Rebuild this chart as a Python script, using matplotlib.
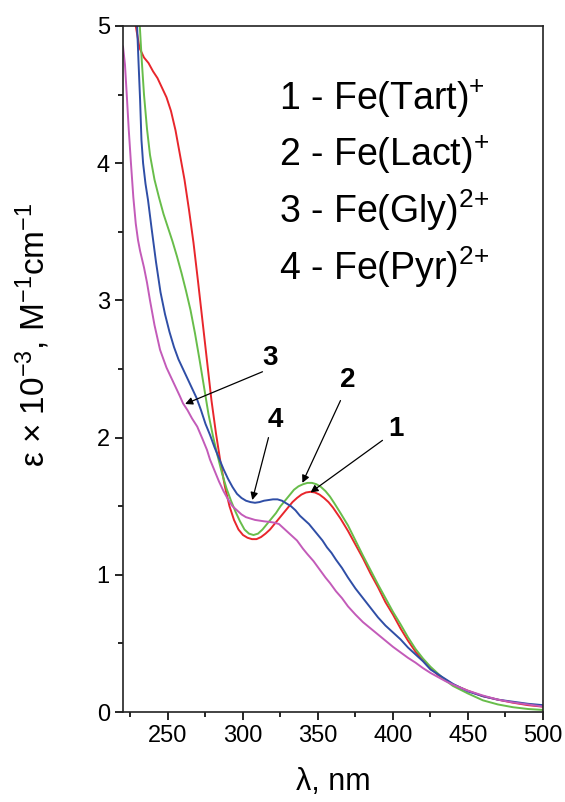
import matplotlib
matplotlib.use('Agg')
import matplotlib.pyplot as plt
from matplotlib.ticker import MultipleLocator

plt.rcParams['font.family'] = ['Liberation Sans', 'DejaVu Sans']
plt.rcParams['mathtext.fontset'] = 'custom'
plt.rcParams['mathtext.rm'] = 'Liberation Sans'
plt.rcParams['mathtext.it'] = 'Liberation Sans:italic'
plt.rcParams['mathtext.bf'] = 'Liberation Sans:bold'

# 1 - Fe(Tart)+
wl_tart = [226, 228.5, 231, 234, 237, 240, 243, 246, 249, 252, 255, 258, 261, 264, 267, 270,
           273, 276, 279, 282, 285, 288, 291, 294, 297, 300, 303, 306, 309, 312, 315, 318,
           321, 324, 327, 330, 333, 336, 339, 342, 345, 348, 351, 354, 357, 360, 365, 370,
           375, 380, 385, 390, 395, 400, 405, 410, 415, 420, 425, 430, 435, 440, 450, 460,
           470, 480, 490, 500]
eps_tart = [5.3, 5.0, 4.84, 4.77, 4.73, 4.67, 4.62, 4.55, 4.48, 4.38, 4.24, 4.06, 3.88, 3.66, 3.42, 3.14,
            2.85, 2.56, 2.27, 2.03, 1.82, 1.64, 1.50, 1.40, 1.33, 1.29, 1.27, 1.26, 1.26, 1.275, 1.30, 1.33,
            1.37, 1.41, 1.45, 1.49, 1.53, 1.56, 1.585, 1.60, 1.605, 1.60, 1.585, 1.56, 1.53, 1.49, 1.41, 1.32,
            1.22, 1.12, 1.01, 0.91, 0.80, 0.71, 0.61, 0.52, 0.44, 0.375, 0.32, 0.27, 0.235, 0.20, 0.155, 0.115,
            0.09, 0.068, 0.05, 0.039]

# 2 - Fe(Lact)+
wl_lact = [229, 231.2, 232.5, 234, 236, 238, 241, 244, 247, 250, 253, 256, 259, 262, 265, 268,
           271, 274, 277, 280, 283, 286, 289, 292, 295, 298, 301, 304, 307, 310, 313, 316,
           319, 322, 325, 328, 331, 334, 337, 340, 343, 346, 349, 352, 355, 358, 361, 365,
           370, 375, 380, 385, 390, 395, 400, 405, 410, 415, 420, 425, 430, 435, 440, 450,
           460, 470, 480, 490, 500]
eps_lact = [5.4, 5.0, 4.75, 4.50, 4.25, 4.06, 3.88, 3.75, 3.63, 3.53, 3.43, 3.32, 3.20, 3.07, 2.93, 2.76,
            2.57, 2.37, 2.17, 2.01, 1.87, 1.74, 1.63, 1.54, 1.46, 1.39, 1.33, 1.30, 1.29, 1.30, 1.33, 1.37,
            1.41, 1.45, 1.50, 1.54, 1.58, 1.62, 1.645, 1.66, 1.67, 1.67, 1.66, 1.64, 1.61, 1.57, 1.52, 1.45,
            1.36, 1.25, 1.14, 1.035, 0.93, 0.83, 0.73, 0.64, 0.545, 0.46, 0.39, 0.33, 0.28, 0.23, 0.19, 0.135,
            0.085, 0.055, 0.035, 0.022, 0.015]

# 3 - Fe(Gly)2+
wl_gly = [220, 221.3, 222.5, 223.8, 225.3, 226.9, 228.5, 230, 231.4, 234, 236, 238, 241, 244.7, 247, 249,
          252, 255, 258, 260, 263, 266, 269.5, 273, 276, 278, 281, 284, 287, 290, 293, 296,
          299, 302, 305, 308, 311, 314, 318, 321, 324, 327, 330, 333, 336, 340, 343, 347,
          351, 355, 358, 362, 366, 370, 375, 380, 385, 390, 395, 400, 405, 410, 415, 420,
          425, 430, 435, 440, 450, 460, 470, 480, 490, 500]
eps_gly = [4.85, 4.72, 4.50, 4.25, 4.00, 3.75, 3.56, 3.44, 3.36, 3.24, 3.13, 3.0, 2.82, 2.64, 2.57, 2.51,
           2.44, 2.37, 2.30, 2.25, 2.20, 2.14, 2.08, 1.99, 1.91, 1.84, 1.76, 1.68, 1.61, 1.55, 1.50, 1.47,
           1.44, 1.42, 1.41, 1.40, 1.395, 1.39, 1.385, 1.38, 1.37, 1.34, 1.31, 1.28, 1.25, 1.19, 1.15, 1.10,
           1.04, 0.98, 0.94, 0.88, 0.83, 0.77, 0.71, 0.655, 0.61, 0.565, 0.52, 0.475, 0.435, 0.395, 0.36, 0.32,
           0.285, 0.255, 0.225, 0.20, 0.155, 0.12, 0.09, 0.07, 0.055, 0.04]

# 4 - Fe(Pyr)2+
wl_pyr = [228, 229.4, 230.3, 231.4, 232.3, 233.4, 235, 236.7, 239, 242, 245, 248, 251, 254, 257, 260,
          263, 266, 269, 272, 275, 278, 281, 284, 287, 290, 293, 296, 299, 302, 305, 308,
          311, 314, 317, 320, 323, 326, 329, 332, 335, 338, 341, 344, 347, 350, 353, 356,
          359, 362, 366, 370, 375, 380, 385, 390, 395, 400, 405, 410, 415, 420, 425, 430,
          435, 440, 450, 460, 470, 480, 490, 500]
eps_pyr = [5.3, 5.0, 4.75, 4.46, 4.17, 4.0, 3.85, 3.73, 3.53, 3.28, 3.06, 2.90, 2.77, 2.66, 2.57, 2.50,
           2.43, 2.36, 2.29, 2.20, 2.10, 2.02, 1.93, 1.85, 1.77, 1.70, 1.64, 1.59, 1.56, 1.54, 1.53, 1.525,
           1.53, 1.54, 1.545, 1.55, 1.55, 1.54, 1.52, 1.50, 1.47, 1.43, 1.40, 1.37, 1.33, 1.29, 1.25, 1.20,
           1.16, 1.11, 1.05, 0.98, 0.90, 0.83, 0.76, 0.69, 0.63, 0.58, 0.53, 0.47, 0.42, 0.37, 0.31, 0.275,
           0.24, 0.205, 0.15, 0.115, 0.09, 0.075, 0.06, 0.05]

legend_lines = [r'1 - Fe(Tart)$^{+}$', r'2 - Fe(Lact)$^{+}$', r'3 - Fe(Gly)$^{2{+}}$', r'4 - Fe(Pyr)$^{2{+}}$']

fig = plt.figure(figsize=(5.65, 8.02), dpi=100)
ax = fig.add_axes([0.2177, 0.1122, 0.7433, 0.8554])

ax.plot(wl_tart, eps_tart, color='#e8262c', lw=1.4)
ax.plot(wl_lact, eps_lact, color='#68bd4a', lw=1.4)
ax.plot(wl_pyr, eps_pyr, color='#2f4ea6', lw=1.4)
ax.plot(wl_gly, eps_gly, color='#c35bb9', lw=1.4)

ax.set_xlim(220, 500)
ax.set_ylim(0, 5)
ax.xaxis.set_major_locator(MultipleLocator(50))
ax.xaxis.set_minor_locator(MultipleLocator(25))
ax.yaxis.set_major_locator(MultipleLocator(1))
ax.yaxis.set_minor_locator(MultipleLocator(0.5))
ax.tick_params(which='both', direction='out', top=False, right=False, labelsize=17, width=1.2)
ax.tick_params(which='major', length=6)
ax.tick_params(which='minor', length=3.5)
for s in ax.spines.values():
    s.set_linewidth(1.2)
    s.set_color('#222222')

ax.set_xlabel(r'λ, nm', fontsize=22, labelpad=14)
ax.set_ylabel(r'ε × 10$^{-3}$, M$^{-1}$cm$^{-1}$', fontsize=24)
ax.yaxis.set_label_coords(-0.17, 0.55)

for i, t in enumerate(legend_lines):
    ax.text(0.372, 0.8776 - i * 0.0824, t, transform=ax.transAxes, fontsize=27, va='baseline', ha='left')

arrow_kw = dict(arrowstyle='-|>', color='black', lw=0.9, mutation_scale=11, shrinkA=0, shrinkB=0)
ax.annotate('', xy=(261.4, 2.245), xytext=(313, 2.48), arrowprops=arrow_kw)
ax.annotate('', xy=(306.2, 1.545), xytext=(317, 2.0), arrowprops=arrow_kw)
ax.annotate('', xy=(339.6, 1.67), xytext=(365, 2.27), arrowprops=arrow_kw)
ax.annotate('', xy=(345, 1.60), xytext=(393, 1.98), arrowprops=arrow_kw)
ax.text(318, 2.58, '3', fontsize=20, fontweight='bold', ha='center', va='center')
ax.text(321.6, 2.13, '4', fontsize=20, fontweight='bold', ha='center', va='center')
ax.text(369.7, 2.42, '2', fontsize=20, fontweight='bold', ha='center', va='center')
ax.text(401.8, 2.06, '1', fontsize=20, fontweight='bold', ha='center', va='center')

fig.savefig('out.png', dpi=100)
